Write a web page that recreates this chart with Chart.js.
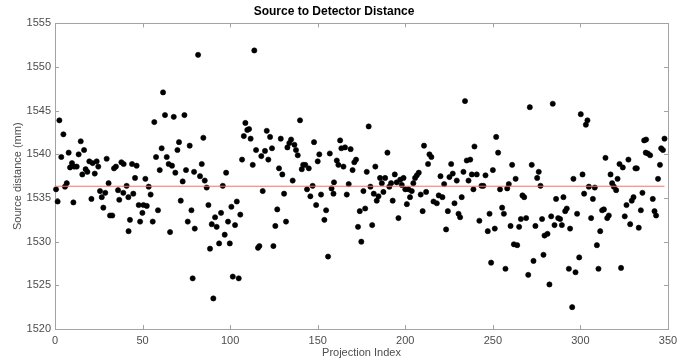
<!DOCTYPE html>
<html>
<head>
<meta charset="utf-8">
<script src="https://cdn.jsdelivr.net/npm/chart.js@4.4.1/dist/chart.umd.min.js"></script>
<style>
  html, body { margin: 0; padding: 0; background: #fff; }
</style>
</head>
<body>
<canvas id="distChart" width="692" height="360"></canvas>
<script>
/* Source to detector distance per projection - scatter with mean line */

const projIndex = [
  0.6, 1.5, 2.5, 3.6, 4.8, 5.7, 6.7, 7.8, 8.6, 9.7, 10.5, 11.0, 12.4, 13.5, 14.7, 15.6, 16.6, 17.5, 18.5, 19.6,
  20.8, 21.5, 22.7, 23.8, 24.7, 25.7, 26.7, 27.6, 28.7, 29.5, 30.6, 31.4, 32.7, 33.7, 34.8, 36.0, 36.7, 37.9, 39.0,
  39.2, 40.9, 41.9, 42.8, 42.0, 44.0, 44.7, 45.7, 46.6, 47.8, 48.6, 49.9, 50.5, 51.6, 52.4, 53.5, 54.6, 55.8, 56.7,
  57.7, 58.8, 59.8, 60.9, 61.7, 62.8, 63.8, 64.9, 65.7, 66.8, 67.8, 68.7, 69.9, 70.8, 71.8, 72.9, 73.9, 74.8, 75.8,
  76.9, 77.9, 78.6, 79.4, 79.8,
  81.7, 82.8, 83.8, 84.7, 85.5, 86.6, 87.6, 88.5, 89.5, 90.4, 91.4, 92.3, 93.7, 94.8, 95.8, 96.9, 97.7, 98.8, 99.8,
  100.7, 101.5, 102.8, 103.8, 104.9, 105.8, 106.8, 107.8, 108.7, 109.8, 110.8, 111.7, 112.9, 113.8, 114.8, 115.9,
  116.7, 117.8, 118.6,
  119.9, 120.9, 121.8, 122.8, 123.9, 124.7, 125.8, 126.9, 127.9, 128.9, 129.8, 130.8, 131.9, 132.7, 133.8, 134.8,
  135.7, 136.7, 137.6, 138.6, 139.9, 140.9, 141.7, 142.9, 143.9, 144.9, 145.8, 147.1, 147.9, 149.1, 150.0, 150.9,
  151.9, 153.8, 154.8, 155.9, 156.9, 157.9, 159.0, 159.3,
  160.9, 161.8, 162.8, 163.5, 164.7, 165.6, 166.6, 167.7, 168.8, 169.9, 170.9, 171.9, 173.0, 174.0, 174.9, 176.1,
  177.1, 178.0, 179.1, 180.1, 181.1, 182.0, 182.9, 183.7, 184.7, 185.6, 186.6, 187.5, 188.5, 189.8, 190.9, 191.9,
  192.8, 194.0, 195.1, 196.1, 197.1, 198.0, 199.0, 200.0,
  200.9, 201.8, 202.7, 203.7, 204.6, 205.6, 206.6, 207.7, 208.8, 209.9, 210.7, 211.9, 213.0, 213.8, 214.9, 216.1,
  218.0, 219.1, 220.1, 221.2, 222.2, 223.3, 224.3, 225.2, 226.2, 227.1, 228.1, 229.4, 230.4, 231.3, 232.2, 233.2,
  234.1, 235.1, 236.1, 237.1, 238.0, 238.9, 239.5,
  240.8, 242.3, 243.5, 244.6, 245.8, 247.1, 248.1, 249.0, 250.0, 251.1, 251.9, 253.0, 254.1, 255.3, 256.3, 257.2,
  258.2, 259.1, 260.1, 261.0, 262.0, 263.0, 263.9, 265.0, 266.0, 266.9, 267.9, 269.0, 270.2, 271.1, 272.2, 273.2,
  274.3, 275.3, 276.2, 277.2, 278.1, 278.9, 279.5,
  281.2, 282.3, 283.3, 284.2, 285.2, 286.1, 287.3, 288.4, 289.4, 290.3, 291.3, 292.2, 293.4, 294.1, 295.3, 296.0,
  297.2, 298.1, 299.3, 300.2, 301.2, 302.1, 303.1, 304.0, 304.8, 306.1, 307.1, 308.2, 309.4, 310.3, 311.3, 312.4,
  313.4, 314.3, 315.3, 316.2, 317.2, 318.1, 319.1,
  320.4, 321.2, 322.3, 323.2, 324.2, 325.3, 326.3, 327.4, 328.4, 329.3, 330.3, 331.4, 332.2, 333.3, 334.5, 335.4,
  336.4, 337.5, 337.3, 338.5, 339.8, 341.3, 342.3, 343.2, 344.3, 345.4, 346.1, 347.1, 348.0
];

const sourceDist = [
  1536.0, 1534.6, 1543.9, 1539.7, 1542.3, 1536.3, 1536.7, 1540.2, 1538.5, 1539.0, 1534.5, 1538.6, 1538.6, 1540.0, 1541.5, 1537.7, 1540.5, 1538.3, 1538.0, 1539.2,
  1534.9, 1539.0, 1537.8, 1539.2, 1538.6, 1535.8, 1535.1, 1533.9, 1535.6, 1539.5, 1536.7, 1533.0, 1533.0, 1538.4, 1538.6, 1535.9, 1534.8, 1539.1, 1535.6,
  1538.9, 1536.4, 1535.1, 1532.5, 1531.2, 1538.9, 1535.5, 1537.3, 1538.7, 1534.2, 1532.3, 1533.3, 1534.2, 1537.2, 1534.1, 1536.3, 1535.4, 1532.3, 1543.7,
  1539.7, 1533.6, 1538.2, 1540.7, 1547.1, 1544.5, 1539.7, 1538.9, 1531.1, 1538.7, 1544.3, 1537.9, 1540.5, 1541.4, 1534.7, 1536.9, 1544.5, 1538.2, 1532.3,
  1541.0, 1533.6, 1525.8, 1538.0, 1531.5,
  1551.4, 1537.5, 1538.9, 1541.9, 1537.0, 1536.2, 1534.2, 1529.2, 1532.0, 1523.5, 1532.8, 1531.7, 1529.8, 1533.3, 1536.4, 1530.8, 1537.9, 1532.3, 1529.8,
  1534.0, 1526.0, 1531.9, 1534.6, 1525.8, 1533.1, 1539.4, 1542.1, 1543.6, 1542.8, 1542.9, 1541.8, 1538.8, 1551.9, 1540.5, 1529.3,
  1529.5, 1539.8, 1535.8,
  1540.4, 1542.7, 1539.4, 1542.0, 1540.7, 1529.5, 1531.8, 1533.7, 1538.4, 1541.8, 1537.7, 1535.5, 1532.3, 1540.8, 1541.3, 1541.7,
  1537.0, 1541.1, 1540.5, 1539.9, 1543.9, 1538.3, 1538.8, 1538.8, 1536.0, 1538.4, 1535.2, 1536.4, 1541.4, 1534.2, 1539.2, 1540.0,
  1535.4, 1532.5, 1533.6, 1528.3, 1540.1, 1536.1, 1535.5, 1536.8,
  1539.3, 1538.8, 1541.6, 1540.7, 1538.6, 1540.8, 1535.4, 1536.6, 1540.6, 1538.2, 1539.1, 1539.4, 1531.7, 1533.5, 1530.0, 1535.8,
  1533.8, 1538.0, 1543.2, 1536.3, 1531.9, 1535.5, 1538.6, 1534.7, 1535.2, 1537.3, 1536.7, 1535.7, 1537.3, 1540.2, 1536.3, 1536.7,
  1534.7, 1537.7, 1536.8, 1532.7, 1537.1, 1536.5, 1537.3, 1536.0,
  1534.3, 1536.0, 1535.1, 1535.8, 1536.7, 1537.3, 1537.6, 1537.9, 1535.4, 1533.5, 1541.0, 1535.7, 1538.9, 1540.0, 1539.7, 1534.6,
  1534.4, 1535.3, 1537.5, 1535.1, 1536.6, 1531.4, 1533.5, 1537.4, 1538.9, 1537.8, 1534.4, 1537.0, 1533.2, 1532.8, 1535.1, 1538.0,
  1546.1, 1539.3, 1537.0, 1539.4, 1537.7, 1536.0, 1540.9,
  1537.7, 1532.4, 1536.4, 1536.4, 1537.6, 1531.2, 1533.2, 1527.6, 1538.2, 1531.5, 1542.0, 1540.2, 1536.0, 1533.9, 1533.2, 1526.9,
  1536.1, 1536.6, 1531.8, 1538.8, 1529.7, 1537.2, 1529.6, 1531.7, 1532.6, 1535.3, 1535.1, 1532.7, 1526.2, 1545.4, 1538.8, 1527.8,
  1531.8, 1537.3, 1538.0, 1536.4, 1532.6, 1528.5, 1530.7,
  1530.9, 1525.1, 1532.9, 1545.8, 1531.9, 1534.9, 1532.7, 1532.6, 1531.9, 1535.1, 1533.5, 1533.8, 1526.9, 1531.5, 1522.5, 1537.2,
  1526.5, 1533.2, 1528.2, 1544.6, 1537.7, 1535.5, 1543.4, 1543.9, 1536.3, 1532.7, 1534.9, 1536.2, 1529.6, 1526.9, 1531.2, 1533.6,
  1533.7, 1539.6, 1532.7, 1533.0, 1537.7, 1536.7, 1536.3,
  1535.9, 1537.2, 1538.9, 1527.0, 1538.5, 1532.9, 1534.2, 1539.4, 1532.0, 1534.7, 1535.1, 1538.4, 1538.4, 1531.6, 1533.6, 1535.6,
  1541.6, 1541.7, 1540.2, 1540.1, 1539.9, 1534.9, 1533.5, 1533.0, 1537.2, 1538.8, 1540.7, 1540.5, 1541.8
];

const meanDist = 1536.35;
const meanLineX = [0, 348];

const xTickLabels = ['0', '50', '100', '150', '200', '250', '300', '350'];
const yTickLabels = ['1520', '1525', '1530', '1535', '1540', '1545', '1550', '1555'];

const AXIS_TEXT = '#4d4d4d';
const FONT = '"Liberation Sans", Arial, Helvetica, sans-serif';

// Matlab-like box with inward tick marks on all four sides
const boxFrame = {
  id: 'boxFrame',
  beforeDatasetsDraw(chart) {
    const { ctx, chartArea: a, scales: { x, y } } = chart;
    ctx.save();
    ctx.strokeStyle = '#a3a3a3';
    ctx.lineWidth = 1;
    ctx.strokeRect(Math.round(a.left) + 0.5, Math.round(a.top) + 0.5,
      Math.round(a.right - a.left), Math.round(a.bottom - a.top));
    ctx.beginPath();
    x.ticks.forEach(t => {
      const px = Math.round(x.getPixelForValue(t.value)) + 0.5;
      ctx.moveTo(px, a.bottom); ctx.lineTo(px, a.bottom - 4);
      ctx.moveTo(px, a.top); ctx.lineTo(px, a.top + 4);
    });
    y.ticks.forEach(t => {
      const py = Math.round(y.getPixelForValue(t.value)) + 0.5;
      ctx.moveTo(a.left, py); ctx.lineTo(a.left + 4, py);
      ctx.moveTo(a.right, py); ctx.lineTo(a.right - 4, py);
    });
    ctx.stroke();
    ctx.restore();
  }
};

const points = projIndex.map((x, i) => ({ x, y: sourceDist[i] }));
const meanLine = meanLineX.map(x => ({ x, y: meanDist }));

new Chart(document.getElementById('distChart'), {
  type: 'scatter',
  data: {
    datasets: [
      { type: 'line', label: 'Mean', data: meanLine, borderColor: '#ff6b6b', borderWidth: 1,
        pointRadius: 0, fill: false, clip: false },
      { label: 'Source distance', data: points, backgroundColor: '#000', borderColor: '#000',
        pointRadius: 2.6, borderWidth: 0.6, clip: false }
    ]
  },
  options: {
    responsive: false,
    devicePixelRatio: 1,
    animation: false,
    layout: { padding: { top: 0, right: 24, bottom: 0, left: 0 } },
    plugins: {
      legend: { display: false },
      tooltip: { enabled: false },
      title: {
        display: true,
        text: 'Source to Detector Distance',
        color: '#000',
        font: { family: FONT, size: 12, weight: 'bold' },
        padding: { top: 4, bottom: 5 }
      }
    },
    scales: {
      x: {
        type: 'linear', min: 0, max: 350,
        afterFit: s => { s.height = 31; },
        afterBuildTicks: s => { s.ticks = xTickLabels.map(v => ({ value: Number(v) })); },
        ticks: { color: AXIS_TEXT, font: { family: FONT, size: 11 }, padding: 5, maxRotation: 0,
          callback: v => String(v) },
        grid: { display: false, drawTicks: false },
        border: { display: false },
        title: { display: true, text: 'Projection Index', color: AXIS_TEXT,
          font: { family: FONT, size: 11 }, padding: { top: 0, bottom: 0 } }
      },
      y: {
        type: 'linear', min: 1520, max: 1555,
        afterFit: s => { s.width = 55; },
        afterBuildTicks: s => { s.ticks = yTickLabels.map(v => ({ value: Number(v) })); },
        ticks: { color: AXIS_TEXT, font: { family: FONT, size: 11 }, padding: 4,
          callback: v => String(v) },
        grid: { display: false, drawTicks: false },
        border: { display: false },
        title: { display: true, text: 'Source distance (mm)', color: AXIS_TEXT,
          font: { family: FONT, size: 11 }, padding: { top: 11, bottom: 0 } }
      }
    }
  },
  plugins: [boxFrame]
});
</script>
</body>
</html>
